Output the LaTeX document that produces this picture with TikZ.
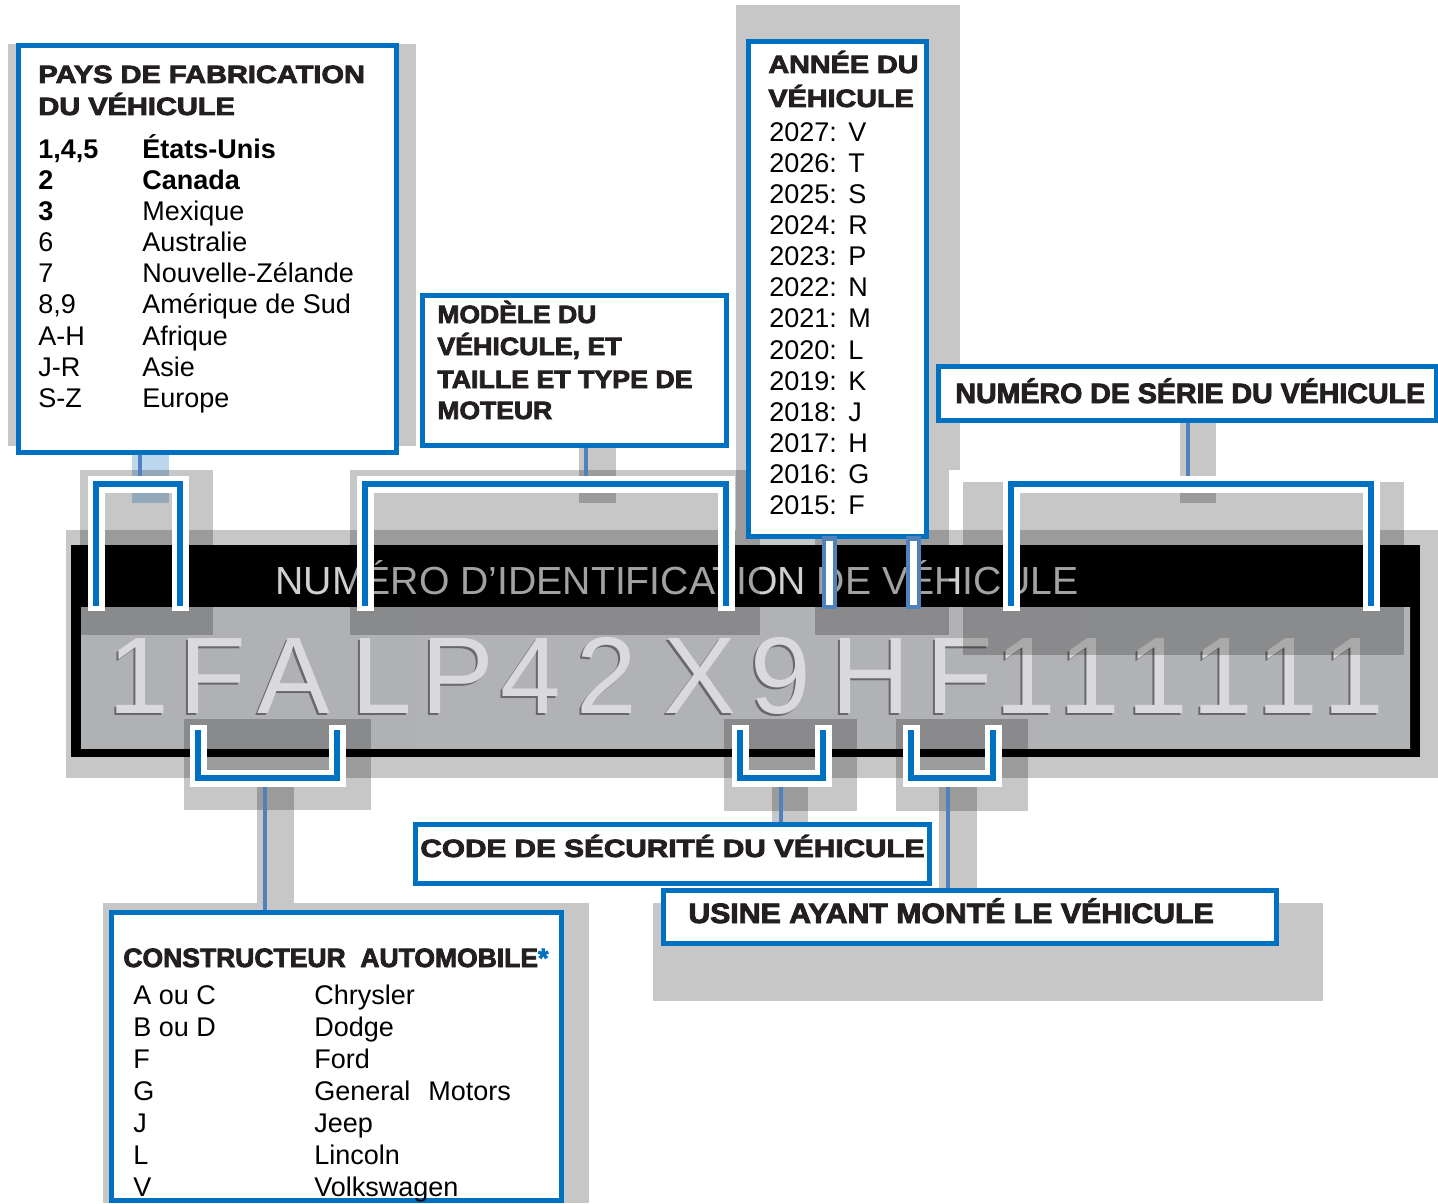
\documentclass[tikz,border=0pt]{standalone}
\usepackage{graphicx}
\usepackage{fontspec}
\setmainfont{Liberation Sans}
\newfontfamily\headfont{Liberation Sans Bold}[FakeBold=3]
\usetikzlibrary{fit,calc}
\definecolor{vinblue}{RGB}{0,112,192}
\definecolor{stemblue}{RGB}{79,129,189}
\definecolor{inkblack}{RGB}{35,31,32}
\definecolor{bandtext}{RGB}{208,208,208}
\definecolor{plateL}{RGB}{176,177,179}
\definecolor{plateM}{RGB}{196,197,199}
\definecolor{plateR}{RGB}{178,179,181}
\definecolor{lightblue}{RGB}{189,216,238}
\definecolor{embossdark}{RGB}{104,104,106}
\definecolor{embossface}{RGB}{218,218,220}
\newcommand{\wide}[2]{\scalebox{#1}[1]{#2}}
\newcommand{\emboss}[1]{\makebox[0pt][l]{\hspace{-1pt}\raisebox{-1.25pt}{\color{embossdark}#1}}{\color{embossface}#1}}

\begin{document}
\begin{tikzpicture}[x=0.5pt,y=-0.5pt,
	vinbox/.style={draw=vinblue, line width=2.5pt, fill=white, inner sep=0pt},
	shadowrect/.style={fill=black, fill opacity=0.22},
	stemline/.style={draw=stemblue, line width=2.2pt},
	yrstem/.style={draw=stemblue, line width=2.2pt, fill=white},
	brwhite/.style={draw=white, line width=8.5pt, shorten <=-2.5pt, shorten >=-2.5pt},
	brblue/.style={draw=vinblue, line width=3.25pt},
	head/.style={font=\headfont\fontsize{12.5}{15}\selectfont, text=inkblack, inner sep=0pt, anchor=base west},
	headbig/.style={head, font=\headfont\fontsize{14}{16}\selectfont},
	body/.style={font=\fontsize{13.5}{16}\selectfont, inner sep=0pt, anchor=base west},
	vinchar/.style={font=\fontsize{54.5}{60}\selectfont, inner sep=0pt, anchor=base}]

	\useasboundingbox (0,0) rectangle (1438,1203);
	\fill[white] (0,0) rectangle (1438,1203);

	%grey shadows behind the boxes and the plate
	\fill[shadowrect] (8,44) rectangle (416,446);
	\fill[shadowrect] (736,5) rectangle (960,470);
	\fill[shadowrect] (736,470) rectangle (949,530);
	\fill[shadowrect] (66,530) rectangle (1438,778);
	\fill[shadowrect] (103,903) rectangle (589,1203);
	\fill[shadowrect] (653,903) rectangle (1323,1001);

	%the plate
	\fill[black] (71,545) rectangle (1420,757);
	\shade[left color=plateL, middle color=plateM, right color=plateR] (81,607) rectangle (1410,748);
	\node[anchor=base west, inner sep=0pt, text=bandtext, font=\fontsize{19.6}{22}\selectfont] (bandT) at (275,594) {NUMÉRO D’IDENTIFICATION DE VÉHICULE};
	\foreach \ch/\px [count=\i] in {1/139, F/213, A/294, L/382, P/458, 4/531, 2/607, X/700, 9/781, H/871, F/960, 1/1026, 1/1090, 1/1158, 1/1223, 1/1288, 1/1354}
		\node[vinchar] (vin\i) at (\px,713) {\emboss{\ch}};

	%shadows of the brackets and stems
	\fill[lightblue] (132,455) rectangle (169,503);
	\fill[shadowrect] (80,470) rectangle (213,635);
	\fill[shadowrect] (350,470) rectangle (760,635);
	\fill[shadowrect] (579,447) rectangle (616,503);
	\fill[shadowrect] (815,530) rectangle (949,635);
	\fill[shadowrect] (1180,423) rectangle (1216,503);
	\fill[shadowrect] (963,482) rectangle (1404,655);
	\fill[shadowrect] (184,719) rectangle (371,810);
	\fill[shadowrect] (257,773) rectangle (294,903);
	\fill[shadowrect] (724,719) rectangle (857,811);
	\fill[shadowrect] (772,777) rectangle (808,830);
	\fill[shadowrect] (896,719) rectangle (1028,811);
	\fill[shadowrect] (939,773) rectangle (977,888);

	%boxes
	\node[vinbox, fit={(18,46) (396,452)}] (pays) {};
	\node[vinbox, fit={(422,296) (726,445)}] (modele) {};
	\node[vinbox, fit={(748,42) (926,536)}] (annee) {};
	\node[vinbox, fit={(938,366) (1436,420)}] (serie) {};
	\node[vinbox, fit={(415,824) (929,883)}] (secu) {};
	\node[vinbox, fit={(663,890) (1276,943)}] (usine) {};
	\node[vinbox, fit={(111,912) (561,1200)}] (constr) {};

	%stems
	\coordinate (brA) at (140,484);
	\coordinate (brB) at (586,484);
	\coordinate (brS) at (1188,484);
	\coordinate (brC) at (265,778);
	\coordinate (brD) at (781,778);
	\coordinate (brE) at (948,778);
	\draw[stemline] (pays.south -| brA) -- (brA);
	\draw[stemline] (modele.south -| brB) -- (brB);
	\draw[stemline] (serie.south -| brS) -- (brS);
	\draw[stemline] (brC) -- (brC |- constr.north);
	\draw[stemline] (brD) -- (brD |- secu.north);
	\draw[stemline] (brE) -- (brE |- usine.north);

	%brackets over the characters
	\foreach \xa/\xb/\ya/\yb in {96/180/606/484, 365/726/606/484, 1011/1371/606/484, 198/337/730/778, 740/823/730/778, 911/993/730/778}{
		\draw[brwhite] (\xa,\ya) -- (\xa,\yb) -- (\xb,\yb) -- (\xb,\ya);
		\draw[brblue] (\xa,\ya) -- (\xa,\yb) -- (\xb,\yb) -- (\xb,\ya);
	}

	%year stems
	\coordinate (hY) at (835,607);
	\coordinate (hM) at (919,607);
	\draw[yrstem] ($(annee.south -| hY)+(-11,0)$) rectangle (hY);
	\draw[yrstem] ($(annee.south -| hM)+(-11,0)$) rectangle (hM);

	%country of manufacture
	\node[head] (paysT1) at (38,83) {\wide{1.16}{PAYS DE FABRICATION}};
	\node[head] (paysT2) at (38,115) {\wide{1.16}{DU VÉHICULE}};
	\foreach \ca/\cb [count=\i from 0] in {{\bfseries 1,4,5}/{\bfseries États-Unis}, {\bfseries 2}/{\bfseries Canada}, {\bfseries 3}/Mexique, 6/Australie, 7/Nouvelle-Zélande, {8,9}/Amérique de Sud, A-H/Afrique, J-R/Asie, S-Z/Europe}
		\node[body] (pr\i) at (38,{159+31*\i}) {\makebox[52pt][l]{\ca}\cb};

	%model
	\node[head] (modT1) at (437,323) {\wide{1.06}{MODÈLE DU}};
	\node[head] (modT2) at (437,355) {\wide{1.07}{VÉHICULE, ET}};
	\node[head] (modT3) at (437,388) {\wide{1.07}{TAILLE ET TYPE DE}};
	\node[head] (modT4) at (437,419) {\wide{1.06}{MOTEUR}};

	%model year
	\node[head] (anT1) at (768,73) {\wide{1.15}{ANNÉE DU}};
	\node[head] (anT2) at (768,107) {\wide{1.15}{VÉHICULE}};
	\foreach \yr/\ltr [count=\i from 0] in {2027/V, 2026/T, 2025/S, 2024/R, 2023/P, 2022/N, 2021/M, 2020/L, 2019/K, 2018/J, 2017/H, 2016/G, 2015/F}
		\node[body] (yr\i) at (769,{142+31*\i}) {\makebox[39.5pt][l]{\yr:}\ltr};

	%serial number, check digit, plant
	\node[headbig] (serT) at (955,403) {\wide{1.02}{NUMÉRO DE SÉRIE DU VÉHICULE}};
	\node[head] (secT) at (420,857) {\wide{1.19}{CODE DE SÉCURITÉ DU VÉHICULE}};
	\node[headbig] (usiT) at (688,923) {\wide{1.08}{USINE AYANT MONTÉ LE VÉHICULE}};

	%manufacturer
	\node[head, font=\headfont\fontsize{13.25}{15}\selectfont] (conT) at (123,967) {CONSTRUCTEUR\ \ AUTOMOBILE{\color{vinblue}*}};
	\foreach \ca/\cb [count=\i from 0] in {A ou C/Chrysler, B ou D/Dodge, F/Ford, G/General\hspace{9pt}Motors, J/Jeep, L/Lincoln, V/Volkswagen}
		\node[body] (cr\i) at (133,{1004+32*\i}) {\makebox[90.5pt][l]{\ca}\cb};

\end{tikzpicture}
\end{document}
